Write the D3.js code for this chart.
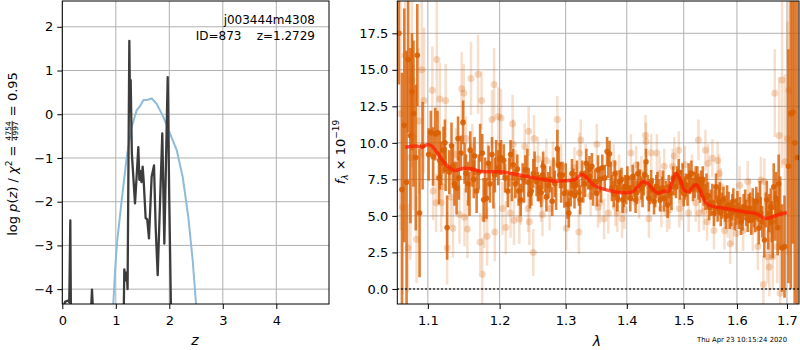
<!DOCTYPE html>
<html>
<head>
<meta charset="utf-8">
<script src="https://cdn.jsdelivr.net/npm/d3@7"></script>
<style>
    body { margin: 0; background: #fff; }
    svg { font-family: 'DejaVu Sans', sans-serif; }
    .grid line { stroke: #b0b0b0; stroke-width: 1; }
    .axis path, .axis line { stroke: #000; stroke-width: 1; }
    .axis text { font-size: 13px; fill: #000; font-family: 'DejaVu Sans', sans-serif; }
</style>
</head>
<body>
<svg id="chart" width="800" height="350"></svg>
<script>
//Datos del panel izquierdo: log p(z)
const zPdf = [0.03,0.05,0.11,0.13,0.15,0.16,0.54,0.555,0.57,1.15,1.159,1.185,1.205,1.22,1.253,1.265,1.278,1.30,1.359,1.40,1.421,1.44,1.46,1.48,1.502,1.52,1.558,1.587,1.62,1.67,1.714,1.745,1.783,1.826,1.869,1.907,1.97,2.0,2.03];
const logPdf = [-4.4,-4.29,-4.26,-4.3,-2.43,-4.4,-4.4,-4.01,-4.4,-4.4,-3.55,-3.8,-3.62,-4.0,1.68,0.3,0.78,-0.9,-2.04,-1.2,-0.75,-1.5,-1.3,-1.55,-1.2,-1.5,-2.38,-2.4,-2.84,-1.43,-1.17,-2.58,-3.68,-2.04,-0.44,-2.96,0.85,-2.0,-4.4];

//Curva azul (chi2 escalado)
const zChi = [0.953,0.99,1.028,1.11,1.204,1.297,1.39,1.45,1.514,1.60,1.671,1.764,1.888,2.013,2.138,2.25,2.355,2.437,2.5];
const chiCurve = [-4.35,-3.5,-2.88,-1.97,-0.98,-0.29,0.09,0.18,0.32,0.33,0.36,0.24,-0.06,-0.44,-0.82,-1.43,-2.35,-3.34,-4.35];

const zTicks = [0, 1, 2, 3, 4];
const pdfTicks = [-4, -3, -2, -1, 0, 1, 2];

//Datos del panel derecho: espectro (puntos oscuros)
const specWave = [1.062,1.066,1.069,1.072,1.074,1.077,1.079,1.081,1.084,1.086,1.089,1.093,
    1.104,1.107,1.110,1.113,1.116,1.118,1.121,1.124,1.126,1.129,1.132,1.136,1.139,1.142,1.145,1.148,1.152,1.155,1.158,1.161,1.164,1.167,1.170,1.175,1.177,1.181,1.184,1.189,1.193,1.198,
    1.202,1.206,1.208,1.212,1.216,1.220,1.223,1.228,1.231,1.234,1.238,1.243,1.247,1.250,1.255,1.259,1.262,1.265,1.268,1.270,1.273,1.276,1.279,1.283,1.287,1.291,1.295,1.298,1.303,1.305,1.308,1.310,1.312,1.316,1.321,1.323,1.326,1.331,1.333,1.336,1.340,1.342,1.347,1.350,1.352,
    1.355,1.359,1.367,1.371,1.375,1.380,1.384,1.388,1.393,1.397,1.401,1.406,1.410,1.415,1.419,1.425,1.429,1.433,1.438,1.442,1.447,1.451,1.456,1.461,1.465,1.471,1.476,1.481,1.486,1.491,1.495,1.500,1.504,1.509,1.514,1.520,1.525,
    1.530,1.535,1.540,1.545,1.550,1.556,1.560,1.565,1.569,1.574,1.579,1.584,1.589,1.593,1.599,1.604,1.608,1.613,1.618,1.623,1.628,1.633,1.638,1.643,1.647,1.654,1.659,1.664,1.669,1.673,1.678,1.683,1.686,1.690,1.695,1.703,1.708,1.712,1.716,1.721,
    1.101,1.115,1.123,1.134,1.141,1.150,1.157,1.163,1.172,1.179,1.186,1.191,1.195,
    1.200,1.214,1.218,1.226,1.236,1.241,1.245,1.252,1.257,1.264,1.281,1.285,1.289,1.293,1.300,1.314,1.318,1.328,1.338,1.344,
    1.357,1.363,1.369,1.373,1.378,1.382,1.386,1.391,1.395,1.399,1.403,1.408,1.413,1.417,1.422,1.427,1.431,1.436,1.440,1.444,1.449,1.453,1.458,1.463,1.468,1.473,1.478,1.483,1.488,1.493,1.498,1.502,1.507,1.511,1.517,1.522,1.527,
    1.532,1.537,1.542,1.547,1.553,1.558,1.563,1.567,1.571,1.577,1.581,1.586,1.591,1.596,1.601,1.606,1.611,1.616,1.621,1.626,1.631,1.636,1.641,1.645,1.650,1.657,1.662,1.667,1.671,1.676,1.681];
const specFlux = [17.5,6.8,11.2,7.3,15.7,10.5,13.5,12.0,9.0,16.0,5.2,9.8,
    10.7,9.06,10.6,10.7,8.8,8.6,9.5,8.2,4.2,8.0,9.8,7.2,6.9,7.6,9.3,11.4,7.9,7.2,9.5,8.2,9.1,6.7,8.0,9.3,6.1,6.2,8.6,9.2,7.8,8.3,
    9.0,8.8,7.6,6.7,9.2,8.5,7.2,6.7,6.1,7.6,8.15,7.3,6.7,7.9,7.35,6.9,6.6,8.4,7.5,6.3,7.1,7.5,6.0,7.2,9.6,7.8,7.8,6.55,5.8,5.2,6.55,7.9,7.35,7.1,6.6,6.1,7.9,7.2,8.6,7.7,7.0,8.4,7.35,6.55,8.15,
    7.5,8.3,9.4,9.25,6.9,7.9,6.2,7.35,6.1,7.0,7.6,6.2,7.7,6.1,7.9,6.9,7.2,8.7,6.2,7.35,6.0,7.0,6.7,6.9,6.2,5.75,6.55,7.6,7.0,8.0,7.35,6.55,7.1,7.7,7.9,7.1,7.5,
    6.8,7.5,6.3,6.4,5.9,5.2,7.0,6.0,5.2,6.1,5.0,5.75,5.2,6.0,5.3,5.0,4.6,5.6,5.2,5.5,4.7,5.2,6.0,4.15,5.2,3.35,6.1,5.2,4.6,7.0,6.2,7.2,5.2,2.8,2.9,8.4,12.0,12.1,10.0,9.0,
    9.2,7.6,10.0,8.4,10.3,8.6,6.5,7.5,10.0,7.7,7.2,6.8,9.0,
    8.9,8.0,7.0,8.2,6.9,8.6,6.5,8.4,7.0,7.8,8.1,6.4,8.5,6.8,7.6,6.4,7.9,6.8,8.2,6.6,
    6.8,7.6,8.5,7.8,6.5,7.2,6.7,7.5,6.4,6.6,6.9,6.8,7.1,6.6,7.4,6.4,7.8,7.0,6.6,6.8,6.4,7.2,6.1,7.3,6.6,7.0,6.2,7.2,7.6,6.9,7.8,6.9,6.5,7.3,6.8,7.6,7.0,
    7.2,6.6,7.0,5.6,6.3,5.9,5.5,6.4,5.7,5.5,6.2,5.0,5.6,4.9,5.8,5.4,4.9,5.9,4.8,5.6,5.9,4.9,5.6,6.3,4.6,5.4,4.0,5.6,3.6,5.0,4.2];
const specErr = [3.5,8,8,9,5,6,4,5,5,3.5,4.4,3,
    1.5,2,1.8,1.5,2,1.5,1.6,1.5,2.2,1.5,1.6,1.5,1.8,1.5,1.2,1.5,1.3,1.5,1.3,1.2,1.3,1.5,1.2,1.3,1.5,1.4,1.2,1.2,1.2,1.2,
    1.2,1.1,1.0,1.1,1.0,1.1,1.0,1.0,1.1,1.0,1.0,1.0,1.0,1.0,1.0,0.9,1.0,1.0,0.9,1.0,0.9,0.9,1.0,0.9,1.3,0.9,0.9,1.0,1.0,1.0,0.9,1.0,0.9,0.9,0.9,1.0,0.9,0.9,1.0,0.9,0.9,0.9,0.9,0.9,1.0,
    0.9,0.9,1.0,0.9,0.9,0.9,0.9,0.8,0.9,0.8,0.8,0.9,0.8,0.9,0.8,0.8,0.8,0.9,0.9,0.8,0.9,0.8,0.8,0.8,0.9,0.9,0.8,0.8,0.8,0.9,0.8,0.9,0.8,0.9,0.9,0.9,0.9,
    0.9,0.9,0.9,0.9,0.9,0.9,0.9,0.9,0.9,0.9,0.9,0.9,0.9,0.9,0.9,0.9,0.9,0.9,0.9,1.0,1.0,1.0,1.0,1.1,1.1,1.2,1.3,1.3,1.4,1.6,1.8,2.0,2.5,3,3.5,8,12,9,11,12,
    1.8,1.8,1.6,1.5,1.5,1.4,1.5,1.3,1.3,1.3,1.3,1.3,1.2,
    1.1,1.0,1.0,1.0,1.0,1.0,1.0,1.0,1.0,1.0,0.9,1.0,1.0,0.9,1.0,0.9,0.9,0.9,0.9,0.9,
    0.9,0.9,0.9,0.9,0.9,0.9,0.8,0.8,0.8,0.8,0.8,0.8,0.8,0.8,0.8,0.8,0.8,0.8,0.8,0.8,0.8,0.8,0.8,0.8,0.8,0.8,0.8,0.8,0.8,0.8,0.8,0.8,0.8,0.8,0.8,0.8,0.9,
    0.9,0.9,0.9,0.9,0.9,0.9,0.9,0.9,0.9,0.9,0.9,0.9,0.9,0.9,0.9,0.9,0.9,0.9,0.9,1.0,1.0,1.0,1.0,1.1,1.1,1.2,1.3,1.3,1.5,1.7,1.9];

//Puntos claros (datos sin combinar)
const rawWave = [1.064,1.067,1.070,1.074,1.077,1.079,1.081,1.085,1.088,1.092,1.095,1.106,1.107,1.111,1.112,1.116,1.118,1.120,1.124,1.126,1.131,1.134,1.138,1.143,1.146,1.149,1.150,1.152,1.154,1.159,1.161,1.169,1.172,1.174,1.175,1.178,1.182,1.183,1.189,1.192,1.193,1.198,
    1.202,1.204,1.209,1.216,1.219,1.220,1.221,1.224,1.229,1.231,1.237,1.242,1.243,1.244,1.250,1.251,1.257,1.262,1.264,1.270,1.275,1.280,1.287,1.293,1.301,1.306,1.314,1.321,1.322,1.324,1.332,1.340,1.350,1.352,
    1.355,1.362,1.369,1.378,1.381,1.384,1.387,1.392,1.396,1.407,1.412,1.416,1.421,1.425,1.432,1.433,1.438,1.442,1.452,1.457,1.460,1.465,1.470,1.474,1.480,1.483,1.491,1.492,1.496,1.502,1.509,1.515,1.522,1.527,1.528,
    1.534,1.537,1.540,1.543,1.545,1.553,1.556,1.563,1.566,1.569,1.576,1.582,1.587,1.592,1.599,1.605,1.612,1.621,1.625,1.631,1.641,1.647,1.652,1.654,1.660,1.664,1.667,1.671,1.675,1.680,1.684,1.686,1.690,1.696,1.701,1.704];
const rawFlux = [12,5.6,16,2.8,9,14.3,10.4,3.4,11.5,15,12.9,13.6,6.7,5.9,15.7,13.0,5.9,7.0,12.9,2.8,6.3,4.15,9.2,5.1,13.7,13.4,4.9,10.3,4.1,14.4,9.7,14.7,3.2,12.9,1.0,4.8,3.6,8.5,11.6,14.0,3.9,11.8,
    11.7,5.5,4.2,5.2,11.3,9.9,4.7,7.9,4.8,6.0,9.75,5.5,10.8,4.6,2.5,10.3,8.9,6.1,5.1,8.8,5.5,8.6,11.6,8.4,4.15,6.4,8.3,3.9,9.3,10.2,8.5,6.4,9.9,5.6,
    5.9,4.8,5.2,8.6,5.6,5.2,7.9,4.8,5.4,9.3,7.0,8.5,6.1,7.9,10.5,10.1,4.8,9.3,9.3,7.9,5.5,8.4,5.2,5.4,8.4,9.1,9.5,5.5,6.0,8.5,5.2,7.9,5.9,10.2,5.2,
    6.55,5.3,9.5,4.6,8.6,8.95,4.0,8.8,7.9,7.0,4.0,4.8,3.1,4.3,3.8,7.1,4.0,7.35,6.1,4.0,2.9,7.45,0.3,7.35,2.2,1.5,4.0,2.2,13.4,2.9,10.5,-0.3,14.3,8.7,10.3,13.6];
const rawErr = [8,6,6,3,7,6,5,3,5,6,5,3,2,2,4,2.5,2,2,2.5,2.5,2,2,1.8,2,2.5,2,2,1.5,2,2.5,1.6,2.7,2,2,2.5,2,2,1.6,2,2.5,2,2,
    2,1.8,1.8,1.7,2,1.7,1.7,1.6,1.7,1.6,1.6,1.6,1.7,1.6,1.6,1.6,1.5,1.5,1.5,1.5,1.5,1.5,1.6,1.5,1.5,1.5,1.4,1.5,1.4,1.4,1.4,1.4,1.4,1.4,
    1.4,1.4,1.4,1.3,1.3,1.3,1.3,1.3,1.3,1.3,1.3,1.3,1.3,1.2,1.4,1.3,1.3,1.3,1.3,1.2,1.3,1.2,1.3,1.3,1.2,1.3,1.3,1.3,1.3,1.3,1.3,1.3,1.3,1.4,1.3,
    1.3,1.3,1.4,1.3,1.3,1.3,1.3,1.3,1.3,1.3,1.3,1.3,1.4,1.3,1.3,1.3,1.4,1.4,1.4,1.4,1.6,1.6,2,1.6,1.8,2,2,2.2,3,2.5,4,3,6,6,8,8];

//Modelo (línea roja)
const modelWave = [1.070,1.085,1.092,1.100,1.105,1.116,1.125,1.137,1.150,1.162,1.176,1.199,1.217,1.240,1.265,1.284,1.304,1.315,1.326,1.332,1.344,1.360,1.378,1.392,1.407,1.419,1.428,1.437,1.446,1.454,1.464,1.473,1.479,1.486,1.493,1.501,1.509,1.516,1.523,1.530,1.538,1.547,1.566,1.591,1.616,1.638,1.657,1.667,1.680,1.700];
const modelFlux = [9.7,9.79,9.7,9.89,9.79,9.06,8.49,8.1,8.27,8.2,8.03,8.03,7.9,7.7,7.5,7.37,7.42,7.5,7.84,7.67,7.14,6.85,6.67,6.58,6.62,7.0,7.33,7.19,6.78,6.55,6.69,6.69,7.3,7.9,7.56,6.76,6.65,6.99,7.14,6.76,6.07,5.73,5.57,5.43,5.27,5.16,4.82,4.89,5.05,5.23];

const waveTicks = [1.1, 1.2, 1.3, 1.4, 1.5, 1.6, 1.7];
const fluxTicks = [0, 2.5, 5, 7.5, 10, 12.5, 15, 17.5];

//Colores fijos
const COLOR_SPEC = '#d95f02';
const COLOR_MODEL = '#ff1a00';
const COLOR_PDF = '#3c3c3c';
const COLOR_CHI = '#8fbbdb';

let svg = d3.select('#chart');

///////
// PANEL IZQUIERDO
///////
let p1 = {left: 62.3, right: 329, top: 1, bottom: 304};

let x1 = d3.scaleLinear().domain([0, 4.985]).range([p1.left, p1.right]);
let y1 = d3.scaleLinear().domain([-4.34, 2.59]).range([p1.bottom, p1.top]);

svg.append('clipPath').attr('id', 'clip1')
    .append('rect')
    .attr('x', p1.left).attr('y', p1.top)
    .attr('width', p1.right - p1.left).attr('height', p1.bottom - p1.top);

let grid1 = svg.append('g').attr('class', 'grid');
grid1.selectAll('.gx').data(zTicks).enter().append('line')
    .attr('x1', d => x1(d)).attr('x2', d => x1(d))
    .attr('y1', p1.top).attr('y2', p1.bottom);
grid1.selectAll('.gy').data(pdfTicks).enter().append('line')
    .attr('x1', p1.left).attr('x2', p1.right)
    .attr('y1', d => y1(d)).attr('y2', d => y1(d));

let plot1 = svg.append('g').attr('clip-path', 'url(#clip1)');

plot1.append('path')
    .datum(zChi.map((z, i) => [z, chiCurve[i]]))
    .attr('fill', 'none')
    .attr('stroke', COLOR_CHI)
    .attr('stroke-width', 2)
    .attr('d', d3.line().x(d => x1(d[0])).y(d => y1(d[1])));

plot1.append('path')
    .datum(zPdf.map((z, i) => [z, logPdf[i]]))
    .attr('fill', 'none')
    .attr('stroke', COLOR_PDF)
    .attr('stroke-width', 2.3)
    .attr('stroke-linejoin', 'round')
    .attr('d', d3.line().x(d => x1(d[0])).y(d => y1(d[1])));

svg.append('g').attr('class', 'axis')
    .attr('transform', 'translate(0,' + p1.bottom + ')')
    .call(d3.axisBottom(x1).tickValues(zTicks).tickSize(5).tickPadding(7).tickFormat(d3.format('d')))
    .call(g => g.select('.domain').remove());

svg.append('g').attr('class', 'axis')
    .attr('transform', 'translate(' + p1.left + ',0)')
    .call(d3.axisLeft(y1).tickValues(pdfTicks).tickSize(5).tickPadding(4).tickFormat(d3.format('d')))
    .call(g => g.select('.domain').remove());

svg.append('rect')
    .attr('x', p1.left).attr('y', p1.top)
    .attr('width', p1.right - p1.left).attr('height', p1.bottom - p1.top)
    .attr('fill', 'none').attr('stroke', '#000').attr('stroke-width', 1);

//Textos del panel
svg.append('text').attr('x', 315).attr('y', 24).attr('text-anchor', 'end')
    .attr('font-size', 12).text('j003444m4308');
svg.append('text').attr('x', 315).attr('y', 40).attr('text-anchor', 'end')
    .attr('font-size', 12).style('white-space', 'pre').text('ID=873    z=1.2729');

svg.append('text').attr('x', 195).attr('y', 345).attr('text-anchor', 'middle')
    .attr('font-size', 14).attr('font-style', 'italic').text('z');

//Etiqueta eje Y con fracción
function drawPdfLabel() {
    let g = svg.append('g');
    let t1 = g.append('text').attr('font-size', 13);
    t1.append('tspan').text('log ');
    t1.append('tspan').attr('font-style', 'italic').text('p');
    t1.append('tspan').text('(');
    t1.append('tspan').attr('font-style', 'italic').text('z');
    t1.append('tspan').text(') / ');
    t1.append('tspan').attr('font-style', 'italic').text('χ');
    t1.append('tspan').attr('font-size', 9).attr('dy', -5).text('2');
    t1.append('tspan').attr('dy', 5).style('white-space', 'pre').text(' = ');
    let w1 = t1.node().getComputedTextLength();

    let num = g.append('text').attr('font-size', 7.5).attr('x', w1 + 1).attr('y', -5.5).text('4754');
    let den = g.append('text').attr('font-size', 7.5).attr('x', w1 + 1).attr('y', 1.5).text('4997');
    let wf = Math.max(num.node().getComputedTextLength(), den.node().getComputedTextLength());
    g.append('line').attr('x1', w1 + 0.5).attr('x2', w1 + wf + 1.5)
        .attr('y1', -4.3).attr('y2', -4.3).attr('stroke', '#000').attr('stroke-width', 0.8);

    let t3 = g.append('text').attr('font-size', 13).attr('x', w1 + wf + 2)
        .style('white-space', 'pre').text(' = 0.95');
    let total = w1 + wf + 2 + t3.node().getComputedTextLength();

    g.attr('transform', 'translate(16.5,' + (154 + total / 2) + ') rotate(-90)');
}
drawPdfLabel();

///////
// PANEL DERECHO
///////
let p2 = {left: 397.3, right: 799, top: 1, bottom: 304};

let x2 = d3.scaleLog().domain([1.060, 1.725]).range([p2.left, p2.right]);
let y2 = d3.scaleLinear().domain([-1.03, 19.71]).range([p2.bottom, p2.top]);

svg.append('clipPath').attr('id', 'clip2')
    .append('rect')
    .attr('x', p2.left).attr('y', p2.top)
    .attr('width', p2.right - p2.left).attr('height', p2.bottom - p2.top);

let grid2 = svg.append('g').attr('class', 'grid');
grid2.selectAll('.gx').data(waveTicks).enter().append('line')
    .attr('x1', d => x2(d)).attr('x2', d => x2(d))
    .attr('y1', p2.top).attr('y2', p2.bottom);
grid2.selectAll('.gy').data(fluxTicks).enter().append('line')
    .attr('x1', p2.left).attr('x2', p2.right)
    .attr('y1', d => y2(d)).attr('y2', d => y2(d));

let plot2 = svg.append('g').attr('clip-path', 'url(#clip2)');

let rawData = rawWave.map((w, i) => ({w: w, f: rawFlux[i], e: rawErr[i]}));
let specData = specWave.map((w, i) => ({w: w, f: specFlux[i], e: specErr[i]}));

//Puntos claros
plot2.append('g').selectAll('line').data(rawData).enter().append('line')
    .attr('x1', d => x2(d.w)).attr('x2', d => x2(d.w))
    .attr('y1', d => y2(d.f - d.e)).attr('y2', d => y2(d.f + d.e))
    .attr('stroke', COLOR_SPEC).attr('stroke-opacity', 0.2).attr('stroke-width', 2.5);
plot2.append('g').selectAll('circle').data(rawData).enter().append('circle')
    .attr('cx', d => x2(d.w)).attr('cy', d => y2(d.f)).attr('r', 3.5)
    .attr('fill', COLOR_SPEC).attr('fill-opacity', 0.25);

//Puntos oscuros
plot2.append('g').selectAll('line').data(specData).enter().append('line')
    .attr('x1', d => x2(d.w)).attr('x2', d => x2(d.w))
    .attr('y1', d => y2(d.f - d.e)).attr('y2', d => y2(d.f + d.e))
    .attr('stroke', COLOR_SPEC).attr('stroke-opacity', 0.8).attr('stroke-width', 2.6);
plot2.append('g').selectAll('circle').data(specData.filter((d, i) => i < 168 || i % 3 == 0)).enter().append('circle')
    .attr('cx', d => x2(d.w)).attr('cy', d => y2(d.f)).attr('r', 2.8)
    .attr('fill', COLOR_SPEC).attr('fill-opacity', 0.9);

//Modelo
plot2.append('path')
    .datum(modelWave.map((w, i) => [w, modelFlux[i]]))
    .attr('fill', 'none')
    .attr('stroke', COLOR_MODEL).attr('stroke-opacity', 0.72)
    .attr('stroke-width', 3.5).attr('stroke-linejoin', 'round')
    .attr('d', d3.line().curve(d3.curveMonotoneX).x(d => x2(d[0])).y(d => y2(d[1])));

//Línea de cero
plot2.append('line')
    .attr('x1', p2.left).attr('x2', p2.right)
    .attr('y1', y2(0)).attr('y2', y2(0))
    .attr('stroke', '#000').attr('stroke-width', 1.5).attr('stroke-dasharray', '1.5,2.5');

svg.append('g').attr('class', 'axis')
    .attr('transform', 'translate(0,' + p2.bottom + ')')
    .call(d3.axisBottom(x2).tickValues(waveTicks).tickSize(5).tickPadding(7).tickFormat(d3.format('.1f')))
    .call(g => g.select('.domain').remove());

svg.append('g').attr('class', 'axis')
    .attr('transform', 'translate(' + p2.left + ',0)')
    .call(d3.axisLeft(y2).tickValues(fluxTicks).tickSize(5).tickPadding(4).tickFormat(d3.format('.1f')))
    .call(g => g.select('.domain').remove());

svg.append('rect')
    .attr('x', p2.left).attr('y', p2.top)
    .attr('width', p2.right - p2.left).attr('height', p2.bottom - p2.top)
    .attr('fill', 'none').attr('stroke', '#000').attr('stroke-width', 1);

svg.append('text').attr('x', 597).attr('y', 346).attr('text-anchor', 'middle')
    .attr('font-size', 14).attr('font-style', 'italic').text('λ');

//Etiqueta eje Y derecho
let lab2 = svg.append('text').attr('font-size', 13).attr('text-anchor', 'middle')
    .attr('transform', 'translate(345,152) rotate(-90)');
lab2.append('tspan').attr('font-style', 'italic').text('f');
lab2.append('tspan').attr('font-style', 'italic').attr('font-size', 9).attr('dy', 3).text('λ');
lab2.append('tspan').attr('dy', -3).style('white-space', 'pre').text(' × 10');
lab2.append('tspan').attr('font-size', 9).attr('dy', -6).text('−19');

//Fecha
svg.append('text').attr('x', 697).attr('y', 342)
    .attr('font-size', 7).attr('textLength', 90).attr('lengthAdjust', 'spacingAndGlyphs')
    .text('Thu Apr 23 10:15:24 2020');
</script>
</body>
</html>
